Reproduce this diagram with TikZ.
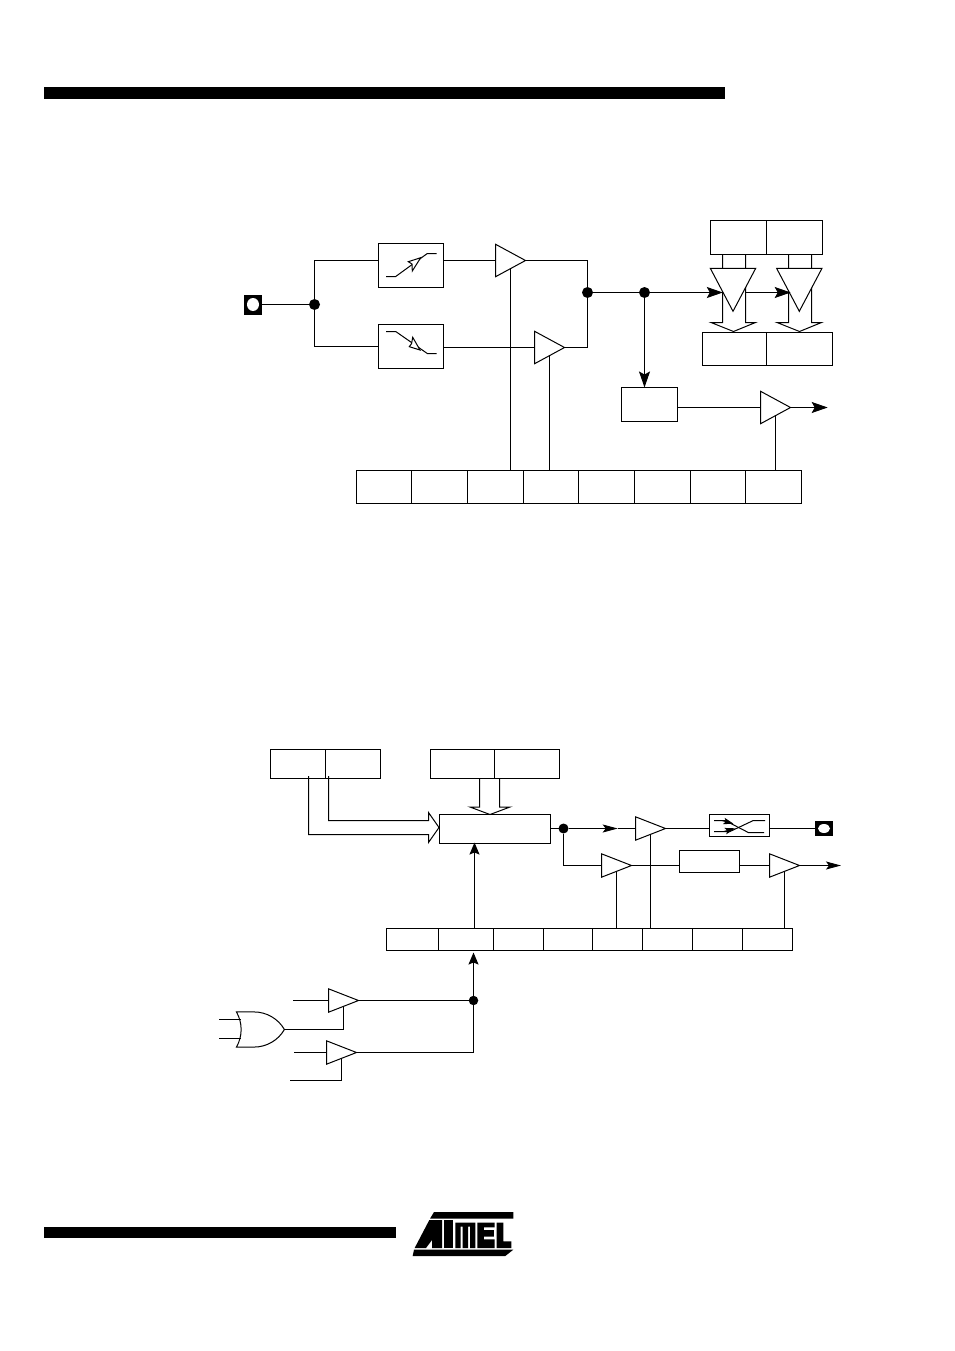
\documentclass[tikz,border=0pt]{standalone}
\usetikzlibrary{arrows.meta,shapes.geometric,shapes.gates.logic.US,calc}
\tikzset{
  wire/.style={line width=1pt},
  bigarr/.style={wire,-{Stealth[length=16pt,width=11pt,inset=3pt]}},
  lowarr/.style={wire,-{Stealth[length=12pt,width=10pt,inset=2pt]}},
  midarr/.style={wire,-{Stealth[length=15pt,width=8pt,inset=3pt]}},
  smallarr/.style={wire,-{Stealth[length=10pt,width=6.5pt,inset=2pt]}},
  box/.style={draw,wire,fill=white,inner sep=0pt,outer sep=0pt},
  cellA/.style={box,minimum height=33pt,anchor=north west},
  cellB/.style={box,minimum height=22pt,anchor=north west},
  buf/.style={draw,wire,fill=white,isosceles triangle,isosceles triangle stretches,
    minimum width=32.5pt,minimum height=30pt,inner sep=0pt,outer sep=0pt,anchor=apex},
  bufs/.style={buf,minimum width=23.4pt},
  bufd/.style={buf,shape border rotate=-90,minimum width=45.4pt,minimum height=43pt},
  dot/.style={circle,fill=black,minimum size=#1,inner sep=0pt,outer sep=0pt},
  pad/.style={fill=black,inner sep=0pt,outer sep=0pt},
  hole/.style={ellipse,fill=white,inner sep=0pt,outer sep=0pt},
}
\begin{document}
\begin{tikzpicture}[x=1pt,y=-1pt]
\useasboundingbox (0,0) rectangle (954,1351);
\fill (44,87) rectangle (725,99);
\fill (44,1227) rectangle (396,1238);

% ---------- upper figure
\node[pad,minimum width=18pt,minimum height=20pt] (padA) at (253,304.5) {};
\node[hole,minimum width=12pt,minimum height=13pt] (holeA) at (253,304.5) {};
\node[dot=11pt] (d1) at (314.5,304.5) {};
\node[box,minimum width=65pt,minimum height=44pt] (sw1) at (411,265.5) {};
\node[box,minimum width=65pt,minimum height=44pt] (sw2) at (411,346.5) {};
\node[buf] (t1) at (525.5,260.5) {};
\node[buf] (t2) at (564.5,347.5) {};
\node[dot=11pt] (d2) at (587.5,292.5) {};
\node[dot=11pt] (d3) at (644.5,292.5) {};
\node[cellA,minimum width=55pt] (r1) at (356.5,470.5) {};
\node[cellA,minimum width=56pt] (r2) at (411.5,470.5) {};
\node[cellA,minimum width=56pt] (r3) at (467.5,470.5) {};
\node[cellA,minimum width=55pt] (r4) at (523.5,470.5) {};
\node[cellA,minimum width=56pt] (r5) at (578.5,470.5) {};
\node[cellA,minimum width=56pt] (r6) at (634.5,470.5) {};
\node[cellA,minimum width=55pt] (r7) at (690.5,470.5) {};
\node[cellA,minimum width=56pt] (r8) at (745.5,470.5) {};
\node[box,minimum width=56pt,minimum height=34pt] (u1) at (738.5,237.5) {};
\node[box,minimum width=56pt,minimum height=34pt] (u2) at (794.5,237.5) {};
\node[box,minimum width=64pt,minimum height=33pt] (l1) at (734.5,349) {};
\node[box,minimum width=66pt,minimum height=33pt] (l2) at (799.5,349) {};
\coordinate (e1) at (722.8,292.5);
\coordinate (e1r) at (745.5,292.5);
\coordinate (e2) at (790.7,292.5);
% wide arrows, under the triangles
\draw[wire] (722.5,254.5) -- (722.5,322.5) -- (711,322.5) -- (733.5,331.5) -- (755.5,322.5) -- (745.5,322.5) -- (745.5,254.5);
\draw[wire] (788.5,254.5) -- (788.5,322.5) -- (777,322.5) -- (799.5,331.5) -- (821.5,322.5) -- (811.5,322.5) -- (811.5,254.5);
\node[bufd] (td1) at (733,311.3) {};
\node[bufd] (td2) at (799.3,311.3) {};
\node[box,minimum width=56pt,minimum height=34pt] (cnt) at (649.5,404.5) {};
\node[buf] (t3) at (790.5,407.5) {};
\coordinate (out1) at (827.7,407.5);

\draw[wire] (padA) -- (d1);
\draw[wire] (d1) |- (sw1.west |- t1.apex);
\draw[wire] (d1) |- (sw2.west);
\draw[wire] (sw1.east |- t1.apex) -- (t1.lower side);
\draw[wire] (sw2.east |- t2.apex) -- (t2.lower side);
\draw[wire] (t1.apex) -| (d2);
\draw[wire] (t2.apex) -| (d2);
\draw[wire] (d2) -- (d3);
\draw[bigarr] (d3) -- (e1);
\draw[bigarr] (e1r) -- (e2);
\draw[bigarr] (d3) -- (cnt.north -| d3);
\draw[wire] (cnt.east |- t3.apex) -- (t3.lower side);
\draw[bigarr] (t3.apex) -- (out1);
\draw[wire] (t1.right side) -- (t1.right side |- r3.north);
\draw[wire] (t2.right side) -- (t2.right side |- r4.north);
\draw[wire] (t3.right side) -- (t3.right side |- r8.north);

% switch symbols
\draw[wire] (386,276.5) -- (395.7,276.5) -- (427.3,253.5) -- (436.7,253.5);
\draw[wire,fill=white] (420.7,257.7) -- (408.3,261.7) -- (412,264) -- (412.3,271) -- cycle;
\draw[wire] (386,331.5) -- (395.7,331.5) -- (427.3,353.5) -- (436.7,353.5);
\draw[wire,fill=white] (420,350) -- (409.3,346.7) -- (411.6,343.5) -- (412.7,337.3) -- cycle;

% ---------- lower figure
\node[box,minimum width=55pt,minimum height=29pt] (a1) at (298,764) {};
\node[box,minimum width=55pt,minimum height=29pt] (a2) at (353,764) {};
\node[box,minimum width=64pt,minimum height=29pt] (b1) at (462.5,764) {};
\node[box,minimum width=65pt,minimum height=29pt] (b2) at (527,764) {};
\node[box,minimum width=111pt,minimum height=29pt] (blk) at (495,829) {};
\coordinate (qa) at (308.5,776);
\coordinate (qb) at (328.5,776);
\coordinate (qt) at (439,827.5);
\draw[wire] (qa) |- (428.5,834.5) -- (428.5,842.5) -- (qt) -- (428.5,812.5) -- (428.5,820.5) -| (qb);
\coordinate (pa) at (479.5,778.5);
\coordinate (pb) at (499.5,778.5);
\coordinate (pt) at (490,814.5);
\draw[wire] (pa) |- (470,807) -- (pt) -- (510,807) -| (pb);

\node[cellB,minimum width=52pt] (s1) at (386.5,928.5) {};
\node[cellB,minimum width=55pt] (s2) at (438.5,928.5) {};
\node[cellB,minimum width=50pt] (s3) at (493.5,928.5) {};
\node[cellB,minimum width=49pt] (s4) at (543.5,928.5) {};
\node[cellB,minimum width=50pt] (s5) at (592.5,928.5) {};
\node[cellB,minimum width=50pt] (s6) at (642.5,928.5) {};
\node[cellB,minimum width=50pt] (s7) at (692.5,928.5) {};
\node[cellB,minimum width=50pt] (s8) at (742.5,928.5) {};

\node[dot=10pt] (d4) at (563.5,828.5) {};
\node[bufs] (ta) at (665.5,828.5) {};
\node[bufs] (tb) at (631.5,865.5) {};
\node[bufs] (tc) at (799.5,865.5) {};
\node[box,minimum width=60pt,minimum height=22pt] (sw3) at (739.5,825.5) {};
\node[box,minimum width=60pt,minimum height=22pt] (lat) at (709.5,861.5) {};
\node[pad,minimum width=17.7pt,minimum height=14.7pt] (padB) at (823.9,828.5) {};
\node[hole,minimum width=12pt,minimum height=9pt] (holeB) at (824,828.5) {};
\coordinate (out2) at (841,865.5);
\coordinate (m1) at (617.7,828.5);
\coordinate (upA) at (474.5,928.5);
\coordinate (upB) at (474.5,842.5);

\draw[wire] (blk.east |- d4) -- (d4);
\draw[midarr] (d4) -- (m1);
\draw[wire] (m1) -- (ta.lower side);
\draw[wire] (d4) |- (tb.lower side);
\draw[wire] (ta.apex) -- (sw3.west |- ta.apex);
\draw[wire] (sw3.east |- padB) -- (padB);
\draw[wire] (tb.apex) -- (lat.west |- tb.apex);
\draw[wire] (lat.east |- tc.apex) -- (tc.lower side);
\draw[midarr] (tc.apex) -- (out2);
\draw[wire] (tb.right side) -- (tb.right side |- s5.north);
\draw[wire] (ta.right side) -- (ta.right side |- s6.north);
\draw[wire] (tc.right side) -- (tc.right side |- s8.north);
\draw[lowarr] (upA) -- (upB);

% crossing switch
\draw[wire] (714,820.5) -- (725,820.5) -- (748.3,832.5) -- (764,832.5);
\draw[wire] (714,831.5) -- (730,831.5) -- (753.3,820.5) -- (765,820.5);
\draw[smallarr] (722,820.5) -- (733.5,823.7);
\draw[smallarr] (724,831.5) -- (735,828.3);

% request logic
\node[dot=9.5pt] (d5) at (473.5,1000.5) {};
\node[bufs] (td) at (358.5,1000.5) {};
\node[bufs] (te) at (356.5,1052.5) {};
\node[or gate US,draw,wire,fill=white,logic gate inputs=nn,minimum width=48pt,minimum height=26pt,
  inner sep=0pt,anchor=output] (org) at (285,1029.5) {};
\coordinate (ia) at (293,1000.5);
\coordinate (ib) at (294,1052.5);
\coordinate (ic) at (290.3,1080.5);
\coordinate (oa) at (219,1019.5);
\coordinate (ob) at (219,1038.5);
\draw[wire] (ia) -- (td.lower side);
\draw[wire] (ib) -- (te.lower side);
\draw[wire] (td.apex) -- (d5);
\draw[wire] (te.apex) -| (d5);
\draw[lowarr,shorten >=2pt] (d5) -- (s2.south -| d5);
\draw[wire] (org.output) -| (td.right side);
\draw[wire] (ic) -| (te.right side);
\draw[wire] (oa) -- (240.5,1019.5);
\draw[wire] (ob) -- (240.5,1038.5);

% logo
\begin{scope}[shift={(410,1208)},x=0.3333pt,y=-0.3333pt]
  \fill (72,12) -- (310,12) -- (310,32) -- (60,32) -- cycle;
  \fill (58,36) -- (96,36) -- (96,120) -- (66,120) -- (66,96) -- (48,120) -- (14,120) -- cycle;
  \fill (102,36) -- (130,36) -- (130,120) -- (102,120) -- cycle;
  \fill (136,44) -- (196,44) -- (196,120) -- (180,120) -- (180,56) -- (174,56) -- (174,120) -- (158,120) -- (158,56) -- (152,56) -- (152,120) -- (136,120) -- cycle;
  \fill (202,44) -- (254,44) -- (254,58) -- (222,58) -- (222,66) -- (252,66) -- (252,86) -- (222,86) -- (222,94) -- (254,94) -- (254,120) -- (202,120) -- cycle;
  \fill (260,44) -- (280,44) -- (280,100) -- (304,100) -- (304,120) -- (260,120) -- cycle;
  \fill (12,125) -- (310,125) -- (286,144) -- (8,144) -- cycle;
\end{scope}
\end{tikzpicture}
\end{document}
